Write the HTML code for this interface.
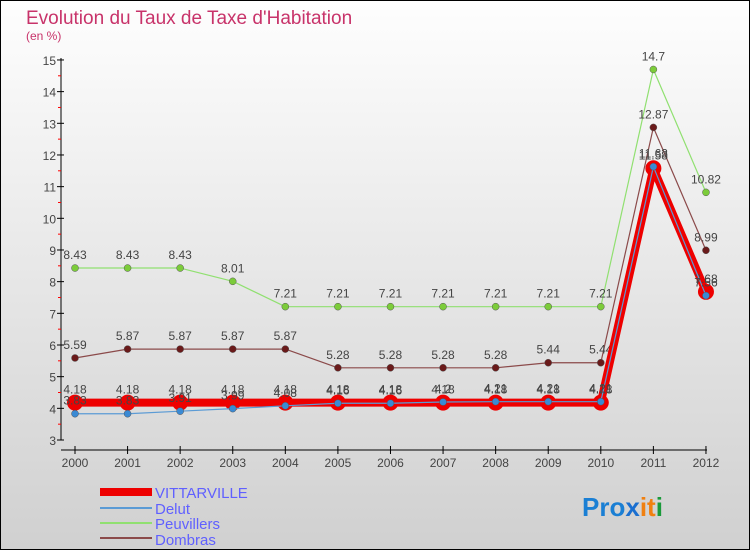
<!DOCTYPE html>
<html><head><meta charset="utf-8"><style>
body{margin:0;}
svg{display:block;font-family:"Liberation Sans",sans-serif;}
</style></head><body>
<svg id="c" width="750" height="550">
<defs><linearGradient id="bg" x1="0" y1="0" x2="0" y2="1"><stop offset="0" stop-color="#fefefe"/><stop offset="1" stop-color="#d0d0d0"/></linearGradient></defs>
<rect x="0.5" y="0.5" width="749" height="549" fill="url(#bg)" stroke="#000"/>
<text x="26" y="24" font-size="19" fill="#c8336a">Evolution du Taux de Taxe d'Habitation</text>
<text x="26" y="40" font-size="12" fill="#c8336a">(en %)</text>
<g id="g"></g>
<g>
<rect x="100" y="488" width="52" height="8" fill="#e00"/>
<text x="155" y="498" font-size="15" fill="#6060ff">VITTARVILLE</text>
<rect x="100" y="507" width="52" height="2" fill="#5b9bd5"/>
<text x="155" y="514" font-size="15" fill="#6060ff">Delut</text>
<rect x="100" y="522" width="52" height="2" fill="#90e070"/>
<text x="155" y="529" font-size="15" fill="#6060ff">Peuvillers</text>
<rect x="100" y="537" width="52" height="2" fill="#8b4a4a"/>
<text x="155" y="545" font-size="15" fill="#6060ff">Dombras</text>
</g>
<text x="582" y="516" font-size="26" font-weight="bold"><tspan fill="#1a7fd4">Pro</tspan><tspan fill="#1a6fd0">x</tspan><tspan fill="#f08010">i</tspan><tspan fill="#f08010">t</tspan><tspan fill="#1a9a3a">i</tspan></text>
</svg>
<script>
const years=[2000,2001,2002,2003,2004,2005,2006,2007,2008,2009,2010,2011,2012];
const vittarville=[4.18,4.18,4.18,4.18,4.18,4.18,4.18,4.18,4.18,4.18,4.18,11.58,7.68];
const delut=[3.83,3.83,3.91,3.99,4.08,4.16,4.16,4.2,4.21,4.21,4.21,11.63,7.56];
const peuvillers=[8.43,8.43,8.43,8.01,7.21,7.21,7.21,7.21,7.21,7.21,7.21,14.7,10.82];
const dombras=[5.59,5.87,5.87,5.87,5.87,5.28,5.28,5.28,5.28,5.44,5.44,12.87,8.99];
const yTicks=[3,4,5,6,7,8,9,10,11,12,13,14,15];
const NS="http://www.w3.org/2000/svg",g=document.getElementById('g');
const X=i=>75+i*52.58, Y=v=>440-(v-3)*31.67;
function mk(t,a,p){const e=document.createElementNS(NS,t);for(const k in a)e.setAttribute(k,a[k]);(p||g).appendChild(e);return e;}
let e;
e=mk('line',{x1:61,y1:58,x2:61,y2:440,stroke:'#000'});


e=mk('line',{x1:61,y1:450,x2:707,y2:450,stroke:'#000'});


yTicks.forEach(v=>{mk('line',{x1:57,x2:64,y1:Y(v),y2:Y(v),stroke:'#000'});
 if(v<15)mk('line',{x1:58,x2:61,y1:Y(v+0.5),y2:Y(v+0.5),stroke:'#f00'});
 e=mk('text',{x:56,y:Y(v)+5,'font-size':12,fill:'#444','text-anchor':'end'});e.textContent=v;
 
 });
years.forEach((y,i)=>{mk('line',{x1:X(i),x2:X(i),y1:446,y2:454,stroke:'#000'});
 e=mk('text',{x:X(i),y:467,'font-size':12,fill:'#444','text-anchor':'middle'});e.textContent=y;
 
 });
function series(name,d,col,w,r,fill){
 const pts=d.map((v,i)=>X(i)+','+Y(v)).join(' ');
 e=mk('polyline',{points:pts,fill:'none',stroke:col,'stroke-width':w,'stroke-linejoin':'round'});
 
 
 d.forEach((v,i)=>{e=mk('circle',{cx:X(i),cy:Y(v),r:r,fill:fill,stroke:col==='#e00'?'#e00':'#555','stroke-width':col==='#e00'?0:0.5});
  
  
  e=mk('text',{x:X(i),y:Y(v)-9,'font-size':12,fill:'#444','text-anchor':'middle'});e.textContent=v;
  
  });
}
series('peuvillers',peuvillers,'#90e070',1.2,3.5,'#7ccc3a');
series('dombras',dombras,'#8b4a4a',1.2,3.5,'#6a1a1a');
series('vittarville',vittarville,'#e00',8,8,'#e00');
series('delut',delut,'#5b9bd5',1.2,3.5,'#3a8ad4');
</script>
</body></html>
